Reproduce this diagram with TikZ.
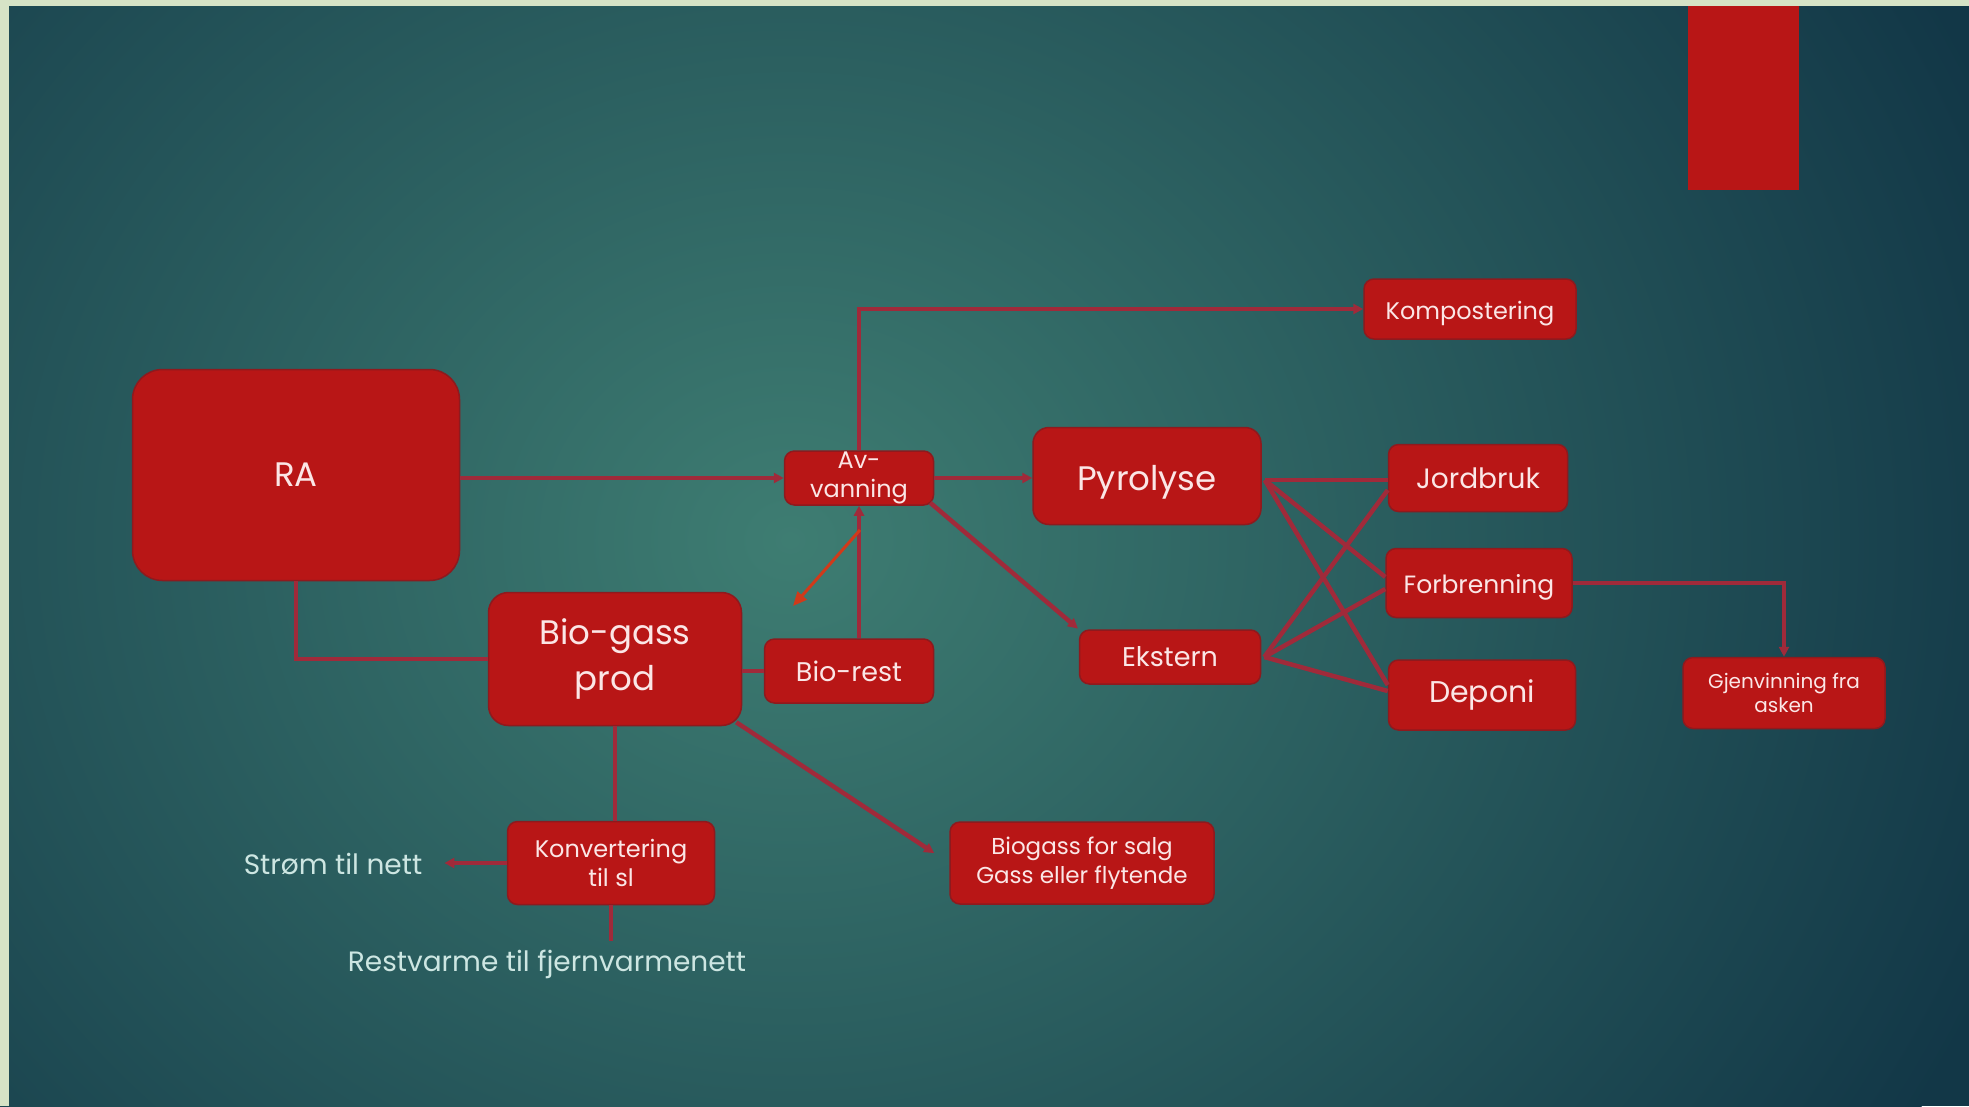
\documentclass[tikz,border=0pt]{standalone}
\usepackage{fontspec}
\setmainfont{Poppins}
\usetikzlibrary{arrows.meta,calc}
\definecolor{bgdark}{HTML}{123747}
\definecolor{bgmid}{HTML}{3E7D72}
\definecolor{bordergreen}{HTML}{D6E3C6}
\definecolor{boxred}{HTML}{B81616}
\definecolor{boxedge}{HTML}{8E1A1E}
\definecolor{boxtext}{HTML}{FBE6E6}
\definecolor{lncol}{HTML}{A02A3A}
\definecolor{orangeln}{HTML}{D03A1A}
\definecolor{outtext}{HTML}{CDE6E2}
\newcommand{\fsz}[1]{\fontsize{#1}{#1}\selectfont}
\begin{document}
\begin{tikzpicture}[x=1pt,y=-1pt,
  box/.style={fill=boxred, draw=boxedge, line width=1.5pt, rounded corners=10pt,
    text=boxtext, align=center, inner sep=0pt},
  ln/.style={draw=lncol, line width=4.5pt},
  tip/.style={-{Triangle[length=10pt,width=10pt]}},
  outlabel/.style={text=outtext, inner sep=0pt}]
\useasboundingbox (0,0) rectangle (1969,1106);
% background
\begin{scope}
\clip (0,0) rectangle (1969,1106);
\fill[bgdark] (0,0) rectangle (1969,1106);
\shade[inner color=bgmid, outer color=bgdark] (790,540) ellipse (1300 and 1150);
\end{scope}
\fill[bordergreen] (0,0) rectangle (9,1106);
\fill[bordergreen] (0,0) rectangle (1969,6);
\fill[boxred] (1688,6) rectangle (1799,190);

% nodes
\node[box, rounded corners=30pt, minimum width=327pt, minimum height=211pt, font=\fsz{34}] (ra) at (296,475) {RA};
\node[box, rounded corners=20pt, minimum width=253pt, minimum height=133pt, font=\fsz{34}, align=center] (bio) at (615,659) {Bio-gass\\[10pt]prod};
\node[box, minimum width=149pt, minimum height=54pt, font=\fsz{24}] (av) at (859,478) {Av-\\[5pt]vanning};
\node[box, rounded corners=16pt, minimum width=228pt, minimum height=97pt, font=\fsz{34}, text height=30pt, text depth=2pt] (pyr) at (1147,476) {Pyrolyse};
\node[box, minimum width=212pt, minimum height=60pt, font=\fsz{24}, text height=20pt, text depth=0pt] (komp) at (1470,309) {Kompostering};
\node[box, minimum width=179pt, minimum height=67pt, font=\fsz{28}] (jord) at (1478,478) {Jordbruk};
\node[box, minimum width=186pt, minimum height=69pt, font=\fsz{25}, text height=21pt, text depth=1pt] (forb) at (1479,583) {Forbrenning};
\node[box, minimum width=187pt, minimum height=70pt, font=\fsz{30}] (dep) at (1482,695) {Deponi};
\node[box, minimum width=181pt, minimum height=54pt, font=\fsz{27}] (ekst) at (1170,657) {Ekstern};
\node[box, minimum width=169pt, minimum height=64pt, font=\fsz{27}] (biorest) at (849,671) {Bio-rest};
\node[box, minimum width=202pt, minimum height=71pt, font=\fsz{20}] (gjen) at (1784,693) {Gjenvinning fra\\[2pt]asken};
\node[box, minimum width=207pt, minimum height=83pt, font=\fsz{24}] (konv) at (611,863) {Konvertering\\[4pt]til sl};
\node[box, minimum width=264pt, minimum height=82pt, font=\fsz{23}] (salg) at (1082,863) {Biogass for salg\\[4pt]Gass eller flytende};
\node[outlabel, font=\fsz{28}] (strom) at (333,864) {Strøm til nett};
\node[outlabel, font=\fsz{28}] (rest) at (547,964) {Restvarme til fjernvarmenett};

% connectors
\draw[ln,tip] (ra.east |- av.west) -- (av.west);
\draw[ln] (ra.south) |- (bio.west);
\draw[ln,tip] (av.east) -- (av.east -| pyr.west);
\draw[ln,tip] (av.north) |- (komp.west);
\draw[ln,tip] (biorest.north -| av.south) -- (av.south);
\draw[ln] (bio.east |- biorest.west) -- (biorest.west);
\draw[ln,tip,shorten >=1pt] ($(av.south east)+(-4,-3)$) -- (ekst.north west);
\coordinate (o1) at (860,530);
\coordinate (o2) at (793,606);
\draw[draw=orangeln, line width=3pt, -{Triangle[length=14pt,width=12pt]}] (o1) -- (o2);
\coordinate (p0) at ($(pyr.east)+(3,4)$);
\draw[ln] (p0) -- (jord.west |- p0);
\draw[ln] (p0) -- ($(forb.west)+(0,-6)$);
\draw[ln] (p0) -- ($(dep.west)+(0,-10)$);
\coordinate (e0) at ($(ekst.east)+(3,0)$);
\draw[ln] (e0) -- ($(jord.west)+(0,12)$);
\draw[ln] (e0) -- ($(forb.west)+(0,6)$);
\draw[ln] (e0) -- ($(dep.west)+(0,-4)$);
\draw[ln,tip] (forb.east) -| (gjen.north);
\draw[ln] (bio.south) -- (bio.south |- konv.north);
\draw[ln,tip,shorten >=22pt] (konv.west) -- (konv.west -| strom.east);
\draw[ln,shorten >=8pt] (konv.south) -- (konv.south |- rest.north);
\draw[ln,tip,shorten >=18pt] ($(bio.south east)+(-6,-4)$) -- (salg.west);
\end{tikzpicture}
\end{document}
